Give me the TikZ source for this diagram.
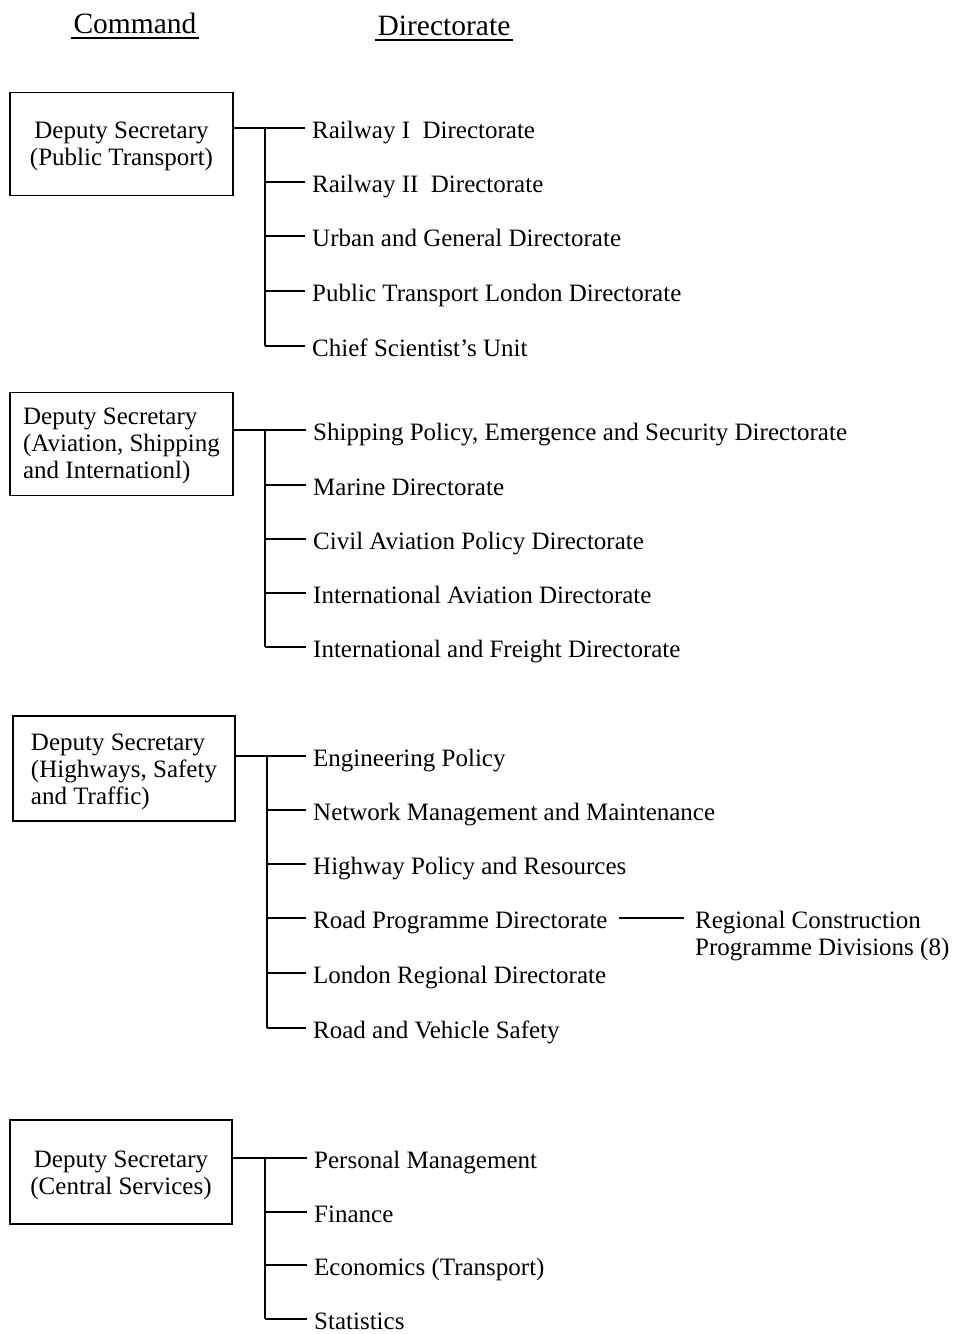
\documentclass[tikz,border=0pt]{standalone}
\usepackage{fontspec}
\setmainfont{Liberation Serif}
\begin{document}
\begin{tikzpicture}[x=1pt,y=-1pt,
  every node/.style={font=\fontsize{25}{27}\selectfont},
  cmdbox/.style={draw,line width=1.6pt,minimum width=223pt,minimum height=103pt,inner sep=0pt},
  twolines/.style={text height=47pt},
  threelines/.style={text height=74pt},
  dirlabel/.style={anchor=west,inner xsep=7pt,inner ysep=0pt,text height=20pt,text depth=0pt},
  heading/.style={font=\fontsize{29.5}{31}\selectfont,anchor=base,inner sep=2pt},
  link/.style={line width=1.5pt},
  trunkline/.style={line width=2pt}]
\useasboundingbox (0,0) rectangle (956,1334);

% column headings
\node[heading] (hc) at (135,33) {Command};
\node[heading] (hd) at (444,35) {Directorate};
\draw[line width=1.2pt] ([yshift=-5pt]hc.base west) -- ([yshift=-5pt]hc.base east);
\draw[line width=1.2pt] ([yshift=-5pt]hd.base west) -- ([yshift=-5pt]hd.base east);

% ---- Public Transport
\node[cmdbox,twolines,align=center,text depth=5pt] (c1) at (121.5,144) {Deputy Secretary\\(Public Transport)};
\coordinate (t1) at (265,0);
\node[dirlabel] (d11) at (305,128) {Railway I\ \ Directorate};
\node[dirlabel] (d12) at (305,182) {Railway II\ \ Directorate};
\node[dirlabel] (d13) at (305,236) {Urban and General Directorate};
\node[dirlabel] (d14) at (305,291) {Public Transport London Directorate};
\node[dirlabel] (d15) at (305,346) {Chief Scientist's Unit};
\draw[link] (c1.east |- d11.west) -- (d11.west);
\draw[trunkline] (t1 |- d11.west) -- (t1 |- d15.west);
\foreach \k in {2,...,5} \draw[link] (t1 |- d1\k.west) -- (d1\k.west);

% ---- Aviation, Shipping and International
\node[cmdbox,threelines,align=left,text depth=5pt] (c2) at (121.5,444) {Deputy Secretary\\(Aviation, Shipping\\and Internationl)};
\coordinate (t2) at (265,0);
\node[dirlabel] (d21) at (306,430) {Shipping Policy, Emergence and Security Directorate};
\node[dirlabel] (d22) at (306,485) {Marine Directorate};
\node[dirlabel] (d23) at (306,539) {Civil Aviation Policy Directorate};
\node[dirlabel] (d24) at (306,593) {International Aviation Directorate};
\node[dirlabel] (d25) at (306,647) {International and Freight Directorate};
\draw[link] (c2.east |- d21.west) -- (d21.west);
\draw[trunkline] (t2 |- d21.west) -- (t2 |- d25.west);
\foreach \k in {2,...,5} \draw[link] (t2 |- d2\k.west) -- (d2\k.west);

% ---- Highways, Safety and Traffic
\node[cmdbox,threelines,align=left,text depth=3pt,minimum width=222pt,minimum height=105pt] (c3) at (124,768.5) {Deputy Secretary\\(Highways, Safety\\and Traffic)};
\coordinate (t3) at (267,0);
\node[dirlabel] (d31) at (306,756) {Engineering Policy};
\node[dirlabel] (d32) at (306,810) {Network Management and Maintenance};
\node[dirlabel] (d33) at (306,864) {Highway Policy and Resources};
\node[dirlabel] (d34) at (306,918) {Road Programme Directorate};
\node[dirlabel] (d35) at (306,973) {London Regional Directorate};
\node[dirlabel] (d36) at (306,1028) {Road and Vehicle Safety};
\draw[link] (c3.east |- d31.west) -- (d31.west);
\draw[trunkline] (t3 |- d31.west) -- (t3 |- d36.west);
\foreach \k in {2,...,6} \draw[link] (t3 |- d3\k.west) -- (d3\k.west);
\node[anchor=base west,align=left,inner xsep=7pt] (rc) at (688,955) {Regional Construction\\Programme Divisions (8)};
\draw[link,shorten <=4pt,shorten >=4pt] (d34.east) -- (d34.east -| rc.west);

% ---- Central Services
\node[cmdbox,twolines,align=center,text depth=3pt,minimum width=222pt,minimum height=104pt] (c4) at (121,1172) {Deputy Secretary\\(Central Services)};
\coordinate (t4) at (265,0);
\node[dirlabel] (d41) at (307,1158) {Personal Management};
\node[dirlabel] (d42) at (307,1212) {Finance};
\node[dirlabel] (d43) at (307,1265) {Economics (Transport)};
\node[dirlabel] (d44) at (307,1319) {Statistics};
\draw[link] (c4.east |- d41.west) -- (d41.west);
\draw[trunkline] (t4 |- d41.west) -- (t4 |- d44.west);
\foreach \k in {2,...,4} \draw[link] (t4 |- d4\k.west) -- (d4\k.west);
\end{tikzpicture}
\end{document}
